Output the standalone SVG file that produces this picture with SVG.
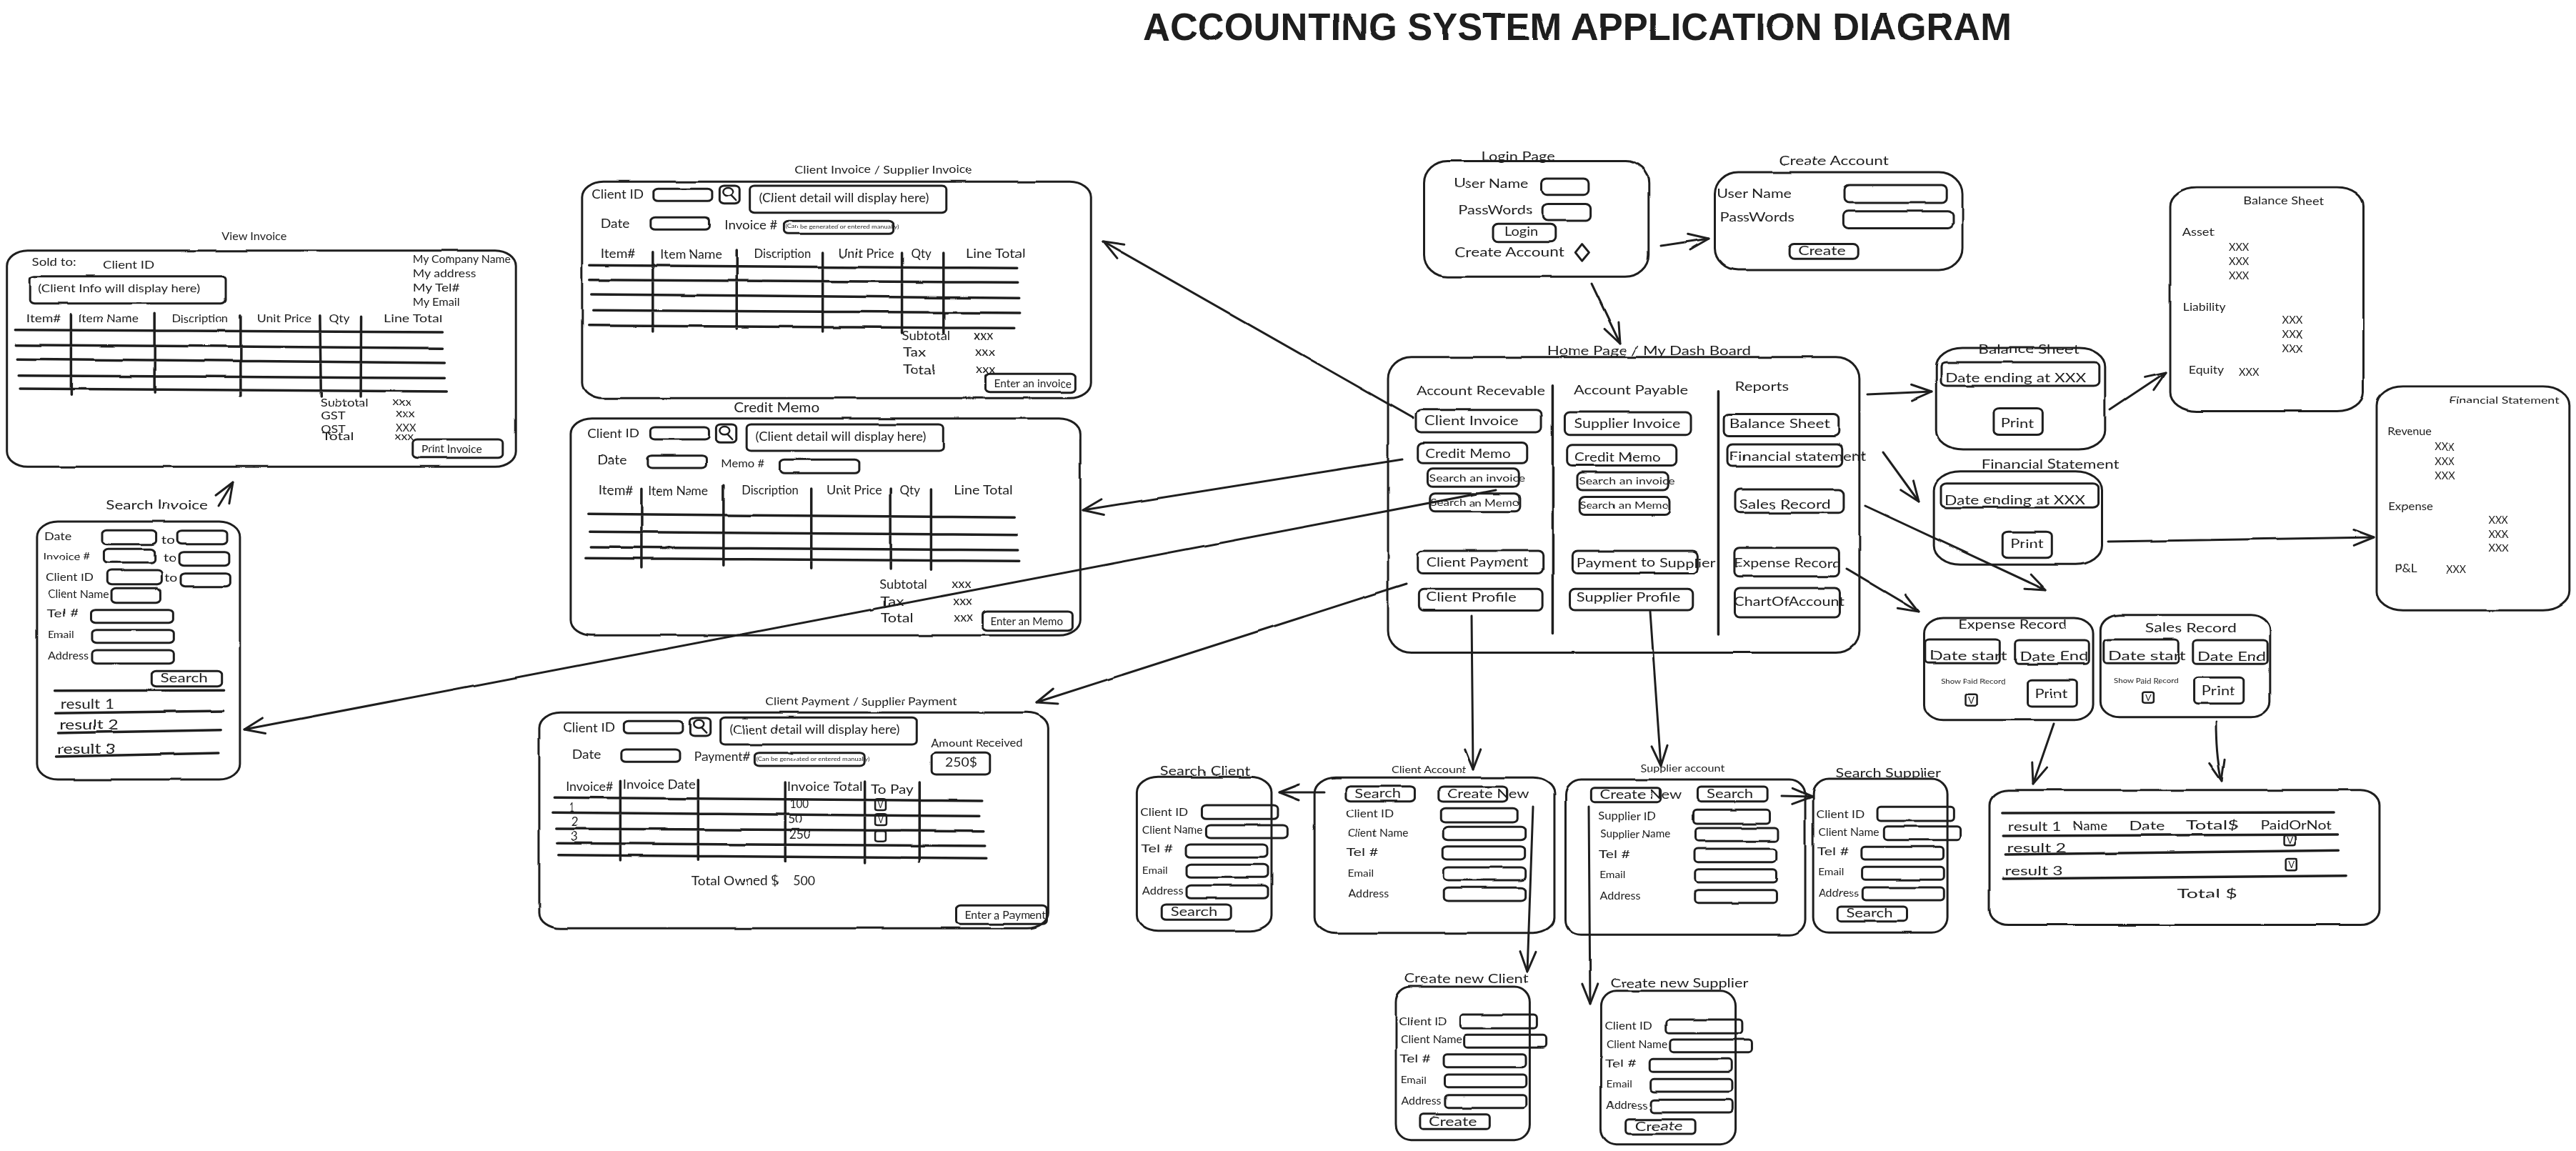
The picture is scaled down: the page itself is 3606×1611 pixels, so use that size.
<svg xmlns="http://www.w3.org/2000/svg" width="3606" height="1611" viewBox="0 0 3606 1611">
<style>
rect,path,line,ellipse{vector-effect:non-scaling-stroke;fill:none;stroke:#1e1e1e;stroke-linecap:round;stroke-linejoin:round}
.p{rx:60px;ry:65px;stroke-width:3}
.f{rx:13px;ry:14px;stroke-width:3}
.c{rx:7px;ry:7px;stroke-width:2.5}
.l{stroke-width:3.5}
.m{stroke-width:2.5}
text{font-family:"Lato","Liberation Sans",sans-serif;fill:#1e1e1e}
#title{font-family:"Liberation Sans",sans-serif;font-weight:700}
#connectors path{stroke-width:3;marker-end:url(#head)}
</style>
<defs>
<marker id="head" markerUnits="userSpaceOnUse" markerWidth="60" markerHeight="60" refX="40" refY="30" orient="auto" overflow="visible"><path d="M12,19 L40,30 L12,41" style="stroke-width:3"/></marker>
<filter id="wobble" filterUnits="userSpaceOnUse" x="0" y="0" width="3606" height="1611" color-interpolation-filters="sRGB"><feTurbulence type="fractalNoise" baseFrequency="0.015" numOctaves="2" seed="4" result="n"/><feDisplacementMap in="SourceGraphic" in2="n" scale="2.5" xChannelSelector="R" yChannelSelector="G"/></filter>
</defs>
<rect width="3606" height="1611" style="fill:#fff;stroke:none"/>
<g filter="url(#wobble)">
<text id="title" x="1600" y="56" font-size="54" textLength="1216" lengthAdjust="spacingAndGlyphs">ACCOUNTING SYSTEM APPLICATION DIAGRAM</text>

<g id="view-invoice" transform="translate(0,300) scale(.4847,.3333)" font-size="48">
<rect class="p" x="20" y="152" width="1470" height="908"/>
<text x="640" y="108" font-size="44" textLength="188" lengthAdjust="spacingAndGlyphs">View Invoice</text>
<text x="92" y="216" textLength="128" lengthAdjust="spacingAndGlyphs">Sold to:</text>
<text x="297" y="228" textLength="149" lengthAdjust="spacingAndGlyphs">Client ID</text>
<rect class="f" x="85" y="260" width="567" height="114"/>
<text x="110" y="328" textLength="468" lengthAdjust="spacingAndGlyphs">(Client Info will display here)</text>
<text x="1192" y="205" textLength="283" lengthAdjust="spacingAndGlyphs">My Company Name</text>
<text x="1192" y="265" textLength="183" lengthAdjust="spacingAndGlyphs">My address</text>
<text x="1192" y="325" textLength="136" lengthAdjust="spacingAndGlyphs">My Tel#</text>
<text x="1192" y="385" textLength="136" lengthAdjust="spacingAndGlyphs">My Email</text>
<text x="76" y="452" textLength="100" lengthAdjust="spacingAndGlyphs">Item#</text>
<text x="226" y="452" textLength="174" lengthAdjust="spacingAndGlyphs">Item Name</text>
<text x="496" y="452" textLength="164" lengthAdjust="spacingAndGlyphs">Discription</text>
<text x="742" y="452" textLength="158" lengthAdjust="spacingAndGlyphs">Unit Price</text>
<text x="950" y="452" textLength="60" lengthAdjust="spacingAndGlyphs">Qty</text>
<text x="1108" y="452" textLength="170" lengthAdjust="spacingAndGlyphs">Line Total</text>
<path class="l" d="M44,485L1278,495M46,548L1278,562M50,607L1284,624M54,677L1284,688M58,732L1290,744M205,422V760M446,415V748M695,425V762M924,425L927,765M1043,430L1042,765"/>
<text x="924" y="808" textLength="140" lengthAdjust="spacingAndGlyphs">Subtotal</text>
<text x="1133" y="805" textLength="57" lengthAdjust="spacingAndGlyphs">xxx</text>
<text x="927" y="860" textLength="71" lengthAdjust="spacingAndGlyphs">GST</text>
<text x="1143" y="852" textLength="57" lengthAdjust="spacingAndGlyphs">xxx</text>
<text x="927" y="918" textLength="71" lengthAdjust="spacingAndGlyphs">QST</text>
<text x="1143" y="913" textLength="59" lengthAdjust="spacingAndGlyphs">XXX</text>
<text x="930" y="948" textLength="92" lengthAdjust="spacingAndGlyphs">Total</text>
<text x="1140" y="948" textLength="55" lengthAdjust="spacingAndGlyphs">xxx</text>
<rect class="f" x="1192" y="945" width="260" height="77"/>
<text x="1215" y="1003" font-size="44" textLength="177" lengthAdjust="spacingAndGlyphs">Print Invoice</text>
</g>

<g id="search-invoice" transform="translate(0,690) scale(.4847,.3333)" font-size="46">
<text x="306" y="68" font-size="54" textLength="294" lengthAdjust="spacingAndGlyphs">Search Invoice</text>
<rect class="p" x="107" y="120" width="586" height="1083"/>
<text x="128" y="198" textLength="79" lengthAdjust="spacingAndGlyphs">Date</text>
<rect class="f" x="295" y="157" width="156" height="58"/>
<text x="466" y="214" textLength="39" lengthAdjust="spacingAndGlyphs">to</text>
<rect class="f" x="512" y="158" width="144" height="57"/>
<text x="125" y="278" font-size="42" textLength="135" lengthAdjust="spacingAndGlyphs">Invoice #</text>
<rect class="f" x="300" y="235" width="147" height="57"/>
<text x="470" y="289" textLength="40" lengthAdjust="spacingAndGlyphs">to</text>
<rect class="f" x="518" y="248" width="144" height="57"/>
<text x="132" y="368" textLength="138" lengthAdjust="spacingAndGlyphs">Client ID</text>
<rect class="f" x="310" y="324" width="157" height="59"/>
<text x="475" y="372" textLength="37" lengthAdjust="spacingAndGlyphs">to</text>
<rect class="f" x="522" y="338" width="143" height="54"/>
<text x="138" y="442" textLength="177" lengthAdjust="spacingAndGlyphs">Client Name</text>
<rect class="f" x="322" y="400" width="141" height="61"/>
<text x="135" y="523" textLength="91" lengthAdjust="spacingAndGlyphs">Tel #</text>
<rect class="f" x="263" y="491" width="237" height="54"/>
<text x="138" y="609" font-size="42" textLength="76" lengthAdjust="spacingAndGlyphs">Email</text>
<rect class="f" x="266" y="575" width="236" height="54"/>
<text x="138" y="698" textLength="118" lengthAdjust="spacingAndGlyphs">Address</text>
<rect class="f" x="266" y="660" width="236" height="56"/>
<rect class="f" x="438" y="748" width="203" height="64"/>
<text x="463" y="796" font-size="54" textLength="137" lengthAdjust="spacingAndGlyphs">Search</text>
<path class="l" d="M158,830L647,829M160,925L645,915M168,1008L638,995M162,1107L631,1092"/>
<text x="175" y="905" font-size="60" textLength="153" lengthAdjust="spacingAndGlyphs">result 1</text>
<text x="172" y="993" font-size="60" textLength="170" lengthAdjust="spacingAndGlyphs">result 2</text>
<text x="165" y="1094" font-size="60" textLength="170" lengthAdjust="spacingAndGlyphs">result 3</text>
</g>

<g id="client-invoice" transform="translate(780,210) scale(.4975,.3333)" font-size="50">
<text x="668" y="98" font-size="46" textLength="499" lengthAdjust="spacingAndGlyphs">Client Invoice / Supplier Invoice</text>
<rect class="p" x="70" y="133" width="1432" height="909"/>
<text x="97" y="205" textLength="146" lengthAdjust="spacingAndGlyphs">Client ID</text>
<rect class="f" x="271" y="163" width="165" height="51"/>
<rect class="f" x="457" y="150" width="56" height="77"/>
<ellipse class="m" cx="481" cy="176" rx="14" ry="17"/>
<path class="m" d="M489,191L503,213"/>
<rect class="f" x="542" y="150" width="553" height="113"/>
<text x="568" y="218" textLength="478" lengthAdjust="spacingAndGlyphs">(Client detail will display here)</text>
<text x="122" y="327" textLength="82" lengthAdjust="spacingAndGlyphs">Date</text>
<rect class="f" x="263" y="283" width="166" height="51"/>
<text x="471" y="334" textLength="149" lengthAdjust="spacingAndGlyphs">Invoice #</text>
<rect class="f" x="638" y="298" width="308" height="54"/>
<text x="642" y="331" font-size="24" textLength="320" lengthAdjust="spacingAndGlyphs">(Can be generated or entered manually)</text>
<text x="122" y="453" textLength="98" lengthAdjust="spacingAndGlyphs">Item#</text>
<text x="290" y="456" textLength="172" lengthAdjust="spacingAndGlyphs">Item Name</text>
<text x="554" y="453" textLength="160" lengthAdjust="spacingAndGlyphs">Discription</text>
<text x="793" y="453" textLength="155" lengthAdjust="spacingAndGlyphs">Unit Price</text>
<text x="996" y="453" textLength="57" lengthAdjust="spacingAndGlyphs">Qty</text>
<text x="1150" y="453" textLength="166" lengthAdjust="spacingAndGlyphs">Line Total</text>
<path class="l" d="M92,484L1294,496M92,545L1296,556M96,606L1300,622M102,673L1302,684M88,737L1286,748M269,428V762M505,420V750M747,432V762M970,432V768M1087,432V768"/>
<text x="970" y="798" textLength="136" lengthAdjust="spacingAndGlyphs">Subtotal</text>
<text x="1172" y="796" textLength="55" lengthAdjust="spacingAndGlyphs">xxx</text>
<text x="973" y="868" textLength="67" lengthAdjust="spacingAndGlyphs">Tax</text>
<text x="1176" y="865" textLength="56" lengthAdjust="spacingAndGlyphs">xxx</text>
<text x="973" y="940" textLength="92" lengthAdjust="spacingAndGlyphs">Total</text>
<text x="1178" y="938" textLength="55" lengthAdjust="spacingAndGlyphs">xxx</text>
<rect class="f" x="1205" y="940" width="253" height="76"/>
<text x="1229" y="995" font-size="44" textLength="218" lengthAdjust="spacingAndGlyphs">Enter an invoice</text>
</g>

<g id="credit-memo" transform="translate(780,550) scale(.4975,.3333)" font-size="50">
<text x="497" y="82" font-size="56" textLength="241" lengthAdjust="spacingAndGlyphs">Credit Memo</text>
<rect class="p" x="38" y="107" width="1434" height="911"/>
<text x="85" y="188" textLength="146" lengthAdjust="spacingAndGlyphs">Client ID</text>
<rect class="f" x="262" y="144" width="165" height="51"/>
<rect class="f" x="447" y="132" width="57" height="76"/>
<ellipse class="m" cx="471" cy="158" rx="14" ry="17"/>
<path class="m" d="M479,173L493,195"/>
<rect class="f" x="533" y="132" width="553" height="111"/>
<text x="558" y="202" textLength="480" lengthAdjust="spacingAndGlyphs">(Client detail will display here)</text>
<text x="113" y="300" textLength="83" lengthAdjust="spacingAndGlyphs">Date</text>
<rect class="f" x="253" y="263" width="166" height="52"/>
<text x="461" y="313" font-size="46" textLength="122" lengthAdjust="spacingAndGlyphs">Memo #</text>
<rect class="f" x="628" y="280" width="222" height="57"/>
<text x="116" y="427" textLength="98" lengthAdjust="spacingAndGlyphs">Item#</text>
<text x="256" y="428" textLength="170" lengthAdjust="spacingAndGlyphs">Item Name</text>
<text x="519" y="427" textLength="160" lengthAdjust="spacingAndGlyphs">Discription</text>
<text x="758" y="427" textLength="156" lengthAdjust="spacingAndGlyphs">Unit Price</text>
<text x="964" y="427" textLength="57" lengthAdjust="spacingAndGlyphs">Qty</text>
<text x="1116" y="427" textLength="166" lengthAdjust="spacingAndGlyphs">Line Total</text>
<path class="l" d="M88,508L1287,523M92,583L1293,596M95,648L1296,660M80,694L1300,706M237,400V732M468,388V724M715,402V736M939,402V738M1052,405V742"/>
<text x="907" y="822" textLength="134" lengthAdjust="spacingAndGlyphs">Subtotal</text>
<text x="1110" y="820" textLength="55" lengthAdjust="spacingAndGlyphs">xxx</text>
<text x="909" y="893" textLength="67" lengthAdjust="spacingAndGlyphs">Tax</text>
<text x="1114" y="890" textLength="54" lengthAdjust="spacingAndGlyphs">xxx</text>
<text x="910" y="962" textLength="92" lengthAdjust="spacingAndGlyphs">Total</text>
<text x="1116" y="960" textLength="54" lengthAdjust="spacingAndGlyphs">xxx</text>
<rect class="f" x="1197" y="918" width="253" height="80"/>
<text x="1219" y="976" font-size="44" textLength="204" lengthAdjust="spacingAndGlyphs">Enter an Memo</text>
</g>

<g id="payment" transform="translate(740,950) scale(.4975,.3333)" font-size="50">
<text x="666" y="110" font-size="46" textLength="539" lengthAdjust="spacingAndGlyphs">Client Payment / Supplier Payment</text>
<rect class="p" x="30" y="142" width="1432" height="906"/>
<text x="97" y="222" textLength="146" lengthAdjust="spacingAndGlyphs">Client ID</text>
<rect class="f" x="268" y="178" width="166" height="51"/>
<rect class="f" x="455" y="165" width="57" height="75"/>
<ellipse class="m" cx="479" cy="190" rx="14" ry="17"/>
<path class="m" d="M487,205L501,227"/>
<rect class="f" x="540" y="163" width="552" height="113"/>
<text x="566" y="232" textLength="478" lengthAdjust="spacingAndGlyphs">(Client detail will display here)</text>
<text x="122" y="335" textLength="82" lengthAdjust="spacingAndGlyphs">Date</text>
<rect class="f" x="261" y="297" width="165" height="52"/>
<text x="468" y="345" textLength="154" lengthAdjust="spacingAndGlyphs">Payment#</text>
<rect class="f" x="636" y="311" width="309" height="55"/>
<text x="640" y="345" font-size="24" textLength="320" lengthAdjust="spacingAndGlyphs">(Can be generated or entered manually)</text>
<text x="1132" y="285" font-size="46" textLength="258" lengthAdjust="spacingAndGlyphs">Amount Received</text>
<rect class="f" x="1134" y="310" width="164" height="92"/>
<text x="1172" y="368" textLength="90" lengthAdjust="spacingAndGlyphs">250$</text>
<text x="105" y="470" textLength="133" lengthAdjust="spacingAndGlyphs">Invoice#</text>
<text x="265" y="462" textLength="205" lengthAdjust="spacingAndGlyphs">Invoice Date</text>
<text x="727" y="472" textLength="213" lengthAdjust="spacingAndGlyphs">Invoice Total</text>
<text x="963" y="482" textLength="120" lengthAdjust="spacingAndGlyphs">To Pay</text>
<path class="l" d="M73,499L1276,513M68,562L1268,577M78,630L1280,638M82,691L1284,702M86,740L1288,754M258,430V762M477,425V760M722,435V768M946,432V774M1100,435V768"/>
<text x="115" y="558" textLength="13" lengthAdjust="spacingAndGlyphs">1</text>
<text x="120" y="617" textLength="20" lengthAdjust="spacingAndGlyphs">2</text>
<text x="118" y="680" textLength="20" lengthAdjust="spacingAndGlyphs">3</text>
<text x="735" y="543" textLength="53" lengthAdjust="spacingAndGlyphs">100</text>
<text x="730" y="606" textLength="40" lengthAdjust="spacingAndGlyphs">50</text>
<text x="733" y="672" textLength="61" lengthAdjust="spacingAndGlyphs">250</text>
<rect class="c" x="975" y="505" width="30" height="47"/>
<text x="982" y="543" font-size="40" textLength="16" lengthAdjust="spacingAndGlyphs">V</text>
<rect class="c" x="975" y="568" width="32" height="47"/>
<text x="983" y="606" font-size="40" textLength="16" lengthAdjust="spacingAndGlyphs">V</text>
<rect class="c" x="975" y="640" width="30" height="43"/>
<text x="458" y="868" textLength="247" lengthAdjust="spacingAndGlyphs">Total Owned $</text>
<text x="744" y="866" textLength="62" lengthAdjust="spacingAndGlyphs">500</text>
<rect class="f" x="1203" y="952" width="255" height="78"/>
<text x="1227" y="1008" font-size="44" textLength="228" lengthAdjust="spacingAndGlyphs">Enter a Payment</text>
</g>

<g id="login-page" transform="translate(1920,200) scale(.5485,.4719)" font-size="38">
<text x="280" y="52" textLength="188" lengthAdjust="spacingAndGlyphs">Login Page</text>
<rect class="p" x="134" y="54" width="573" height="343"/>
<text x="210" y="133" textLength="190" lengthAdjust="spacingAndGlyphs">User Name</text>
<rect class="f" x="433" y="106" width="121" height="48"/>
<text x="221" y="212" textLength="190" lengthAdjust="spacingAndGlyphs">PassWords</text>
<rect class="f" x="436" y="181" width="123" height="48"/>
<rect class="f" x="310" y="240" width="160" height="54"/>
<text x="339" y="275" textLength="86" lengthAdjust="spacingAndGlyphs">Login</text>
<text x="212" y="337" textLength="280" lengthAdjust="spacingAndGlyphs">Create Account</text>
<path style="stroke-width:3" d="M537,300L555,325L537,350L520,325Z"/>
</g>

<g id="create-account" transform="translate(1920,200) scale(.5485,.4719)" font-size="38">
<text x="1040" y="66" textLength="280" lengthAdjust="spacingAndGlyphs">Create Account</text>
<rect class="p" x="876" y="87" width="632" height="290"/>
<text x="881" y="163" textLength="191" lengthAdjust="spacingAndGlyphs">User Name</text>
<rect class="f" x="1207" y="125" width="261" height="53"/>
<text x="889" y="234" textLength="190" lengthAdjust="spacingAndGlyphs">PassWords</text>
<rect class="f" x="1204" y="203" width="280" height="50"/>
<rect class="f" x="1065" y="300" width="177" height="44"/>
<text x="1087" y="333" textLength="123" lengthAdjust="spacingAndGlyphs">Create</text>
</g>

<g id="home-page" transform="translate(1920,200) scale(.5485,.4719)" font-size="38">
<text x="448" y="630" textLength="520" lengthAdjust="spacingAndGlyphs">Home Page / My Dash Board</text>
<rect class="p" x="42" y="635" width="1203" height="877"/>
<text x="113" y="747" textLength="330" lengthAdjust="spacingAndGlyphs">Account Recevable</text>
<text x="516" y="745" textLength="292" lengthAdjust="spacingAndGlyphs">Account Payable</text>
<text x="927" y="735" textLength="138" lengthAdjust="spacingAndGlyphs">Reports</text>
<path class="l" d="M462,720V1455M885,735V1458"/>
<rect class="f" x="113" y="792" width="321" height="66"/>
<text x="135" y="838" textLength="240" lengthAdjust="spacingAndGlyphs">Client Invoice</text>
<rect class="f" x="118" y="889" width="279" height="61"/>
<text x="137" y="935" textLength="218" lengthAdjust="spacingAndGlyphs">Credit Memo</text>
<rect class="f" x="143" y="966" width="233" height="54"/>
<text x="147" y="1004" font-size="30" textLength="245" lengthAdjust="spacingAndGlyphs">Search an invoice</text>
<rect class="f" x="149" y="1040" width="230" height="53"/>
<text x="150" y="1076" font-size="30" textLength="228" lengthAdjust="spacingAndGlyphs">Search an Memo</text>
<rect class="f" x="118" y="1210" width="319" height="67"/>
<text x="140" y="1256" textLength="260" lengthAdjust="spacingAndGlyphs">Client Payment</text>
<rect class="f" x="121" y="1323" width="315" height="64"/>
<text x="139" y="1360" textLength="231" lengthAdjust="spacingAndGlyphs">Client Profile</text>
<rect class="f" x="493" y="799" width="322" height="67"/>
<text x="517" y="846" textLength="271" lengthAdjust="spacingAndGlyphs">Supplier Invoice</text>
<rect class="f" x="499" y="896" width="279" height="61"/>
<text x="518" y="945" textLength="218" lengthAdjust="spacingAndGlyphs">Credit Memo</text>
<rect class="f" x="525" y="977" width="232" height="53"/>
<text x="529" y="1012" font-size="30" textLength="245" lengthAdjust="spacingAndGlyphs">Search an invoice</text>
<rect class="f" x="531" y="1050" width="231" height="53"/>
<text x="531" y="1086" font-size="30" textLength="228" lengthAdjust="spacingAndGlyphs">Search an Memo</text>
<rect class="f" x="513" y="1210" width="319" height="67"/>
<text x="523" y="1258" textLength="355" lengthAdjust="spacingAndGlyphs">Payment to Supplier</text>
<rect class="f" x="506" y="1323" width="314" height="63"/>
<text x="523" y="1360" textLength="265" lengthAdjust="spacingAndGlyphs">Supplier Profile</text>
<rect class="f" x="899" y="804" width="293" height="66"/>
<text x="913" y="845" textLength="257" lengthAdjust="spacingAndGlyphs">Balance Sheet</text>
<rect class="f" x="908" y="894" width="293" height="66"/>
<text x="912" y="942" textLength="350" lengthAdjust="spacingAndGlyphs">Financial statement</text>
<rect class="f" x="928" y="1028" width="277" height="69"/>
<text x="938" y="1085" textLength="234" lengthAdjust="spacingAndGlyphs">Sales Record</text>
<rect class="f" x="926" y="1201" width="267" height="85"/>
<text x="925" y="1258" textLength="273" lengthAdjust="spacingAndGlyphs">Expense Record</text>
<rect class="f" x="927" y="1320" width="268" height="87"/>
<text x="925" y="1373" textLength="282" lengthAdjust="spacingAndGlyphs">ChartOfAccount</text>
</g>

<g id="balance-sheet-page" transform="translate(2640,240) scale(.6161,.4082)" font-size="44">
<text x="210" y="625" textLength="228" lengthAdjust="spacingAndGlyphs">Balance Sheet</text>
<rect class="p" x="114" y="605" width="384" height="348"/>
<rect class="f" x="125" y="654" width="360" height="81"/>
<text x="135" y="722" textLength="320" lengthAdjust="spacingAndGlyphs">Date ending at XXX</text>
<rect class="f" x="245" y="812" width="111" height="91"/>
<text x="261" y="878" textLength="75" lengthAdjust="spacingAndGlyphs">Print</text>
</g>

<g id="financial-statement-page" transform="translate(2640,240) scale(.6161,.4082)" font-size="44">
<text x="217" y="1018" textLength="313" lengthAdjust="spacingAndGlyphs">Financial Statement</text>
<rect class="p" x="109" y="1028" width="382" height="320"/>
<rect class="f" x="125" y="1070" width="358" height="82"/>
<text x="133" y="1142" textLength="320" lengthAdjust="spacingAndGlyphs">Date ending at XXX</text>
<rect class="f" x="265" y="1235" width="112" height="90"/>
<text x="283" y="1290" textLength="75" lengthAdjust="spacingAndGlyphs">Print</text>
</g>

<g id="balance-sheet-report" transform="translate(2640,240) scale(.6161,.4082)" font-size="36">
<rect class="p" x="646" y="54" width="439" height="768"/>
<text x="812" y="112" textLength="183" lengthAdjust="spacingAndGlyphs">Balance Sheet</text>
<text x="673" y="220" textLength="72" lengthAdjust="spacingAndGlyphs">Asset</text>
<text x="779" y="273" textLength="46" lengthAdjust="spacingAndGlyphs">XXX</text>
<text x="779" y="322" textLength="46" lengthAdjust="spacingAndGlyphs">XXX</text>
<text x="779" y="371" textLength="46" lengthAdjust="spacingAndGlyphs">XXX</text>
<text x="675" y="477" textLength="97" lengthAdjust="spacingAndGlyphs">Liability</text>
<text x="900" y="523" textLength="47" lengthAdjust="spacingAndGlyphs">XXX</text>
<text x="900" y="572" textLength="47" lengthAdjust="spacingAndGlyphs">XXX</text>
<text x="900" y="621" textLength="47" lengthAdjust="spacingAndGlyphs">XXX</text>
<text x="688" y="693" textLength="80" lengthAdjust="spacingAndGlyphs">Equity</text>
<text x="802" y="700" textLength="46" lengthAdjust="spacingAndGlyphs">XXX</text>
</g>

<g id="financial-statement-report" transform="translate(2640,240) scale(.6161,.4082)" font-size="36">
<rect class="p" x="1115" y="737" width="438" height="768"/>
<text x="1279" y="795" font-size="32" textLength="251" lengthAdjust="spacingAndGlyphs">Financial Statement</text>
<text x="1140" y="904" textLength="100" lengthAdjust="spacingAndGlyphs">Revenue</text>
<text x="1247" y="957" textLength="46" lengthAdjust="spacingAndGlyphs">XXX</text>
<text x="1247" y="1006" textLength="46" lengthAdjust="spacingAndGlyphs">XXX</text>
<text x="1247" y="1055" textLength="46" lengthAdjust="spacingAndGlyphs">XXX</text>
<text x="1143" y="1162" textLength="100" lengthAdjust="spacingAndGlyphs">Expense</text>
<text x="1369" y="1207" textLength="46" lengthAdjust="spacingAndGlyphs">XXX</text>
<text x="1369" y="1256" textLength="46" lengthAdjust="spacingAndGlyphs">XXX</text>
<text x="1369" y="1305" textLength="46" lengthAdjust="spacingAndGlyphs">XXX</text>
<text x="1156" y="1375" textLength="51" lengthAdjust="spacingAndGlyphs">P&amp;L</text>
<text x="1273" y="1378" textLength="45" lengthAdjust="spacingAndGlyphs">XXX</text>
</g>

<g id="expense-record" transform="translate(2660,840) scale(.4464,.3333)" font-size="54">
<rect class="p" x="75" y="75" width="530" height="428"/>
<text x="182" y="120" textLength="340" lengthAdjust="spacingAndGlyphs">Expense Record</text>
<rect class="f" x="78" y="165" width="234" height="100"/>
<text x="92" y="252" textLength="243" lengthAdjust="spacingAndGlyphs">Date start</text>
<rect class="f" x="360" y="168" width="232" height="100"/>
<text x="373" y="255" textLength="217" lengthAdjust="spacingAndGlyphs">Date End</text>
<text x="128" y="351" font-size="28" textLength="202" lengthAdjust="spacingAndGlyphs">Show Paid Record</text>
<rect class="c" x="205" y="395" width="36" height="48"/>
<text x="213" y="434" font-size="38" textLength="20" lengthAdjust="spacingAndGlyphs">V</text>
<rect class="f" x="400" y="337" width="154" height="110"/>
<text x="422" y="412" textLength="103" lengthAdjust="spacingAndGlyphs">Print</text>
</g>

<g id="sales-record" transform="translate(2660,840) scale(.4464,.3333)" font-size="54">
<rect class="p" x="628" y="62" width="532" height="429"/>
<text x="768" y="135" textLength="287" lengthAdjust="spacingAndGlyphs">Sales Record</text>
<rect class="f" x="638" y="165" width="234" height="100"/>
<text x="652" y="252" textLength="243" lengthAdjust="spacingAndGlyphs">Date start</text>
<rect class="f" x="918" y="168" width="234" height="100"/>
<text x="932" y="255" textLength="215" lengthAdjust="spacingAndGlyphs">Date End</text>
<text x="670" y="349" font-size="28" textLength="203" lengthAdjust="spacingAndGlyphs">Show Paid Record</text>
<rect class="c" x="760" y="383" width="35" height="48"/>
<text x="768" y="422" font-size="38" textLength="20" lengthAdjust="spacingAndGlyphs">V</text>
<rect class="f" x="922" y="325" width="155" height="109"/>
<text x="945" y="400" textLength="103" lengthAdjust="spacingAndGlyphs">Print</text>
</g>

<g id="record-results" transform="translate(2660,840) scale(.4464,.3333)" font-size="54">
<rect class="p" x="280" y="797" width="1223" height="567"/>
<path class="l" d="M320,894L1360,891M323,990L1372,984M330,1068L1374,1051M323,1170L1396,1157"/>
<text x="338" y="968" textLength="167" lengthAdjust="spacingAndGlyphs">result 1</text>
<text x="540" y="965" textLength="110" lengthAdjust="spacingAndGlyphs">Name</text>
<text x="718" y="965" textLength="112" lengthAdjust="spacingAndGlyphs">Date</text>
<text x="896" y="962" textLength="166" lengthAdjust="spacingAndGlyphs">Total$</text>
<text x="1130" y="962" textLength="223" lengthAdjust="spacingAndGlyphs">PaidOrNot</text>
<text x="335" y="1060" textLength="185" lengthAdjust="spacingAndGlyphs">result 2</text>
<text x="328" y="1155" textLength="182" lengthAdjust="spacingAndGlyphs">result 3</text>
<text x="868" y="1252" textLength="189" lengthAdjust="spacingAndGlyphs">Total $</text>
<rect class="c" x="1202" y="988" width="36" height="42"/>
<text x="1210" y="1023" font-size="38" textLength="20" lengthAdjust="spacingAndGlyphs">V</text>
<rect class="c" x="1209" y="1086" width="36" height="49"/>
<text x="1217" y="1125" font-size="38" textLength="20" lengthAdjust="spacingAndGlyphs">V</text>
</g>

<g id="search-client" transform="translate(1570,1050) scale(.4975,.3333)" font-size="46">
<text x="108" y="104" font-size="54" textLength="254" lengthAdjust="spacingAndGlyphs">Search Client</text>
<rect class="p" x="43" y="112" width="379" height="646"/>
<text x="53" y="275" textLength="134" lengthAdjust="spacingAndGlyphs">Client ID</text>
<rect class="f" x="226" y="231" width="214" height="58"/>
<text x="58" y="351" textLength="170" lengthAdjust="spacingAndGlyphs">Client Name</text>
<rect class="f" x="238" y="315" width="229" height="54"/>
<text x="55" y="430" textLength="90" lengthAdjust="spacingAndGlyphs">Tel #</text>
<rect class="f" x="181" y="396" width="229" height="55"/>
<text x="58" y="518" font-size="42" textLength="72" lengthAdjust="spacingAndGlyphs">Email</text>
<rect class="f" x="183" y="481" width="229" height="54"/>
<text x="58" y="605" textLength="116" lengthAdjust="spacingAndGlyphs">Address</text>
<rect class="f" x="183" y="568" width="229" height="54"/>
<rect class="f" x="113" y="648" width="195" height="64"/>
<text x="138" y="695" font-size="54" textLength="130" lengthAdjust="spacingAndGlyphs">Search</text>
</g>

<g id="client-account" transform="translate(1570,1050) scale(.4975,.3333)" font-size="46">
<text x="760" y="95" font-size="42" textLength="208" lengthAdjust="spacingAndGlyphs">Client Account</text>
<rect class="p" x="543" y="115" width="675" height="652"/>
<rect class="f" x="631" y="152" width="194" height="63"/>
<text x="656" y="200" font-size="54" textLength="130" lengthAdjust="spacingAndGlyphs">Search</text>
<rect class="f" x="892" y="153" width="193" height="63"/>
<text x="916" y="202" font-size="54" textLength="231" lengthAdjust="spacingAndGlyphs">Create New</text>
<text x="631" y="283" textLength="135" lengthAdjust="spacingAndGlyphs">Client ID</text>
<rect class="f" x="899" y="244" width="215" height="59"/>
<text x="637" y="362" textLength="170" lengthAdjust="spacingAndGlyphs">Client Name</text>
<rect class="f" x="907" y="322" width="230" height="55"/>
<text x="632" y="443" textLength="90" lengthAdjust="spacingAndGlyphs">Tel #</text>
<rect class="f" x="905" y="404" width="230" height="55"/>
<text x="636" y="530" font-size="42" textLength="74" lengthAdjust="spacingAndGlyphs">Email</text>
<rect class="f" x="907" y="492" width="230" height="54"/>
<text x="638" y="618" textLength="114" lengthAdjust="spacingAndGlyphs">Address</text>
<rect class="f" x="907" y="577" width="230" height="56"/>
</g>

<g id="supplier-account" transform="translate(2170,1050) scale(.37,.3333)" font-size="46">
<text x="342" y="90" font-size="42" textLength="318" lengthAdjust="spacingAndGlyphs">Supplier account</text>
<rect class="p" x="58" y="123" width="907" height="652"/>
<rect class="f" x="155" y="158" width="263" height="60"/>
<text x="188" y="205" font-size="54" textLength="310" lengthAdjust="spacingAndGlyphs">Create New</text>
<rect class="f" x="558" y="153" width="264" height="62"/>
<text x="592" y="200" font-size="54" textLength="176" lengthAdjust="spacingAndGlyphs">Search</text>
<text x="182" y="290" textLength="218" lengthAdjust="spacingAndGlyphs">Supplier ID</text>
<rect class="f" x="542" y="250" width="289" height="59"/>
<text x="190" y="366" textLength="265" lengthAdjust="spacingAndGlyphs">Supplier Name</text>
<rect class="f" x="550" y="327" width="312" height="55"/>
<text x="183" y="452" textLength="119" lengthAdjust="spacingAndGlyphs">Tel #</text>
<rect class="f" x="546" y="414" width="310" height="56"/>
<text x="187" y="538" font-size="42" textLength="98" lengthAdjust="spacingAndGlyphs">Email</text>
<rect class="f" x="548" y="500" width="310" height="55"/>
<text x="188" y="626" textLength="154" lengthAdjust="spacingAndGlyphs">Address</text>
<rect class="f" x="548" y="587" width="310" height="54"/>
</g>

<g id="search-supplier" transform="translate(2170,1050) scale(.37,.3333)" font-size="46">
<text x="1080" y="114" font-size="54" textLength="398" lengthAdjust="spacingAndGlyphs">Search Supplier</text>
<rect class="p" x="995" y="120" width="508" height="646"/>
<text x="1007" y="284" textLength="183" lengthAdjust="spacingAndGlyphs">Client ID</text>
<rect class="f" x="1238" y="238" width="290" height="59"/>
<text x="1015" y="360" textLength="230" lengthAdjust="spacingAndGlyphs">Client Name</text>
<rect class="f" x="1263" y="320" width="290" height="57"/>
<text x="1010" y="440" textLength="120" lengthAdjust="spacingAndGlyphs">Tel #</text>
<rect class="f" x="1178" y="406" width="310" height="53"/>
<text x="1014" y="526" font-size="42" textLength="98" lengthAdjust="spacingAndGlyphs">Email</text>
<rect class="f" x="1180" y="490" width="310" height="54"/>
<text x="1016" y="614" textLength="152" lengthAdjust="spacingAndGlyphs">Address</text>
<rect class="f" x="1182" y="576" width="308" height="54"/>
<rect class="f" x="1087" y="657" width="263" height="62"/>
<text x="1120" y="703" font-size="54" textLength="176" lengthAdjust="spacingAndGlyphs">Search</text>
</g>

<g id="create-new-client" transform="translate(1920,1340) scale(.3571,.3333)" font-size="46">
<text x="130" y="108" font-size="54" textLength="485" lengthAdjust="spacingAndGlyphs">Create new Client</text>
<rect class="p" x="95" y="123" width="525" height="644"/>
<text x="107" y="284" textLength="188" lengthAdjust="spacingAndGlyphs">Client ID</text>
<rect class="f" x="348" y="240" width="300" height="58"/>
<text x="115" y="360" textLength="240" lengthAdjust="spacingAndGlyphs">Client Name</text>
<rect class="f" x="363" y="325" width="322" height="54"/>
<text x="110" y="442" textLength="122" lengthAdjust="spacingAndGlyphs">Tel #</text>
<rect class="f" x="283" y="407" width="322" height="54"/>
<text x="114" y="528" font-size="42" textLength="101" lengthAdjust="spacingAndGlyphs">Email</text>
<rect class="f" x="287" y="492" width="320" height="53"/>
<text x="116" y="617" textLength="157" lengthAdjust="spacingAndGlyphs">Address</text>
<rect class="f" x="288" y="578" width="319" height="54"/>
<rect class="f" x="190" y="659" width="273" height="62"/>
<text x="224" y="707" font-size="54" textLength="189" lengthAdjust="spacingAndGlyphs">Create</text>
</g>

<g id="create-new-supplier" transform="translate(1920,1340) scale(.3571,.3333)" font-size="46">
<text x="937" y="125" font-size="54" textLength="540" lengthAdjust="spacingAndGlyphs">Create new Supplier</text>
<rect class="p" x="900" y="140" width="527" height="645"/>
<text x="914" y="302" textLength="186" lengthAdjust="spacingAndGlyphs">Client ID</text>
<rect class="f" x="1153" y="261" width="300" height="58"/>
<text x="921" y="380" textLength="239" lengthAdjust="spacingAndGlyphs">Client Name</text>
<rect class="f" x="1170" y="345" width="321" height="53"/>
<text x="916" y="461" textLength="122" lengthAdjust="spacingAndGlyphs">Tel #</text>
<rect class="f" x="1090" y="427" width="322" height="54"/>
<text x="920" y="547" font-size="42" textLength="102" lengthAdjust="spacingAndGlyphs">Email</text>
<rect class="f" x="1094" y="511" width="320" height="53"/>
<text x="922" y="636" textLength="158" lengthAdjust="spacingAndGlyphs">Address</text>
<rect class="f" x="1095" y="598" width="320" height="53"/>
<rect class="f" x="996" y="680" width="273" height="61"/>
<text x="1030" y="727" font-size="54" textLength="190" lengthAdjust="spacingAndGlyphs">Create</text>
</g>

<g id="connectors">
<path d="M1978,585L1544,338"/>
<path d="M1963,643L1516,714"/>
<path d="M2095,686L342,1021"/>
<path d="M306,708L326,675"/>
<path d="M1969,817L1451,983"/>
<path d="M2060,862L2062,1077"/>
<path d="M2310,856L2325,1072"/>
<path d="M1854,1109L1791,1109"/>
<path d="M2494,1114L2537,1115"/>
<path d="M2146,1129L2138,1360"/>
<path d="M2224,1129L2226,1405"/>
<path d="M2325,344L2392,334"/>
<path d="M2228,397L2268,481"/>
<path d="M2614,552L2704,548"/>
<path d="M2636,633L2686,702"/>
<path d="M2611,708L2864,826"/>
<path d="M2585,796L2686,856"/>
<path d="M2954,573L3032,521"/>
<path d="M2951,758L3323,752"/>
<path d="M2875,1013L2846,1097"/>
<path d="M3102,1010Q3102,1060 3110,1093"/>
</g>
</g>
</svg>
